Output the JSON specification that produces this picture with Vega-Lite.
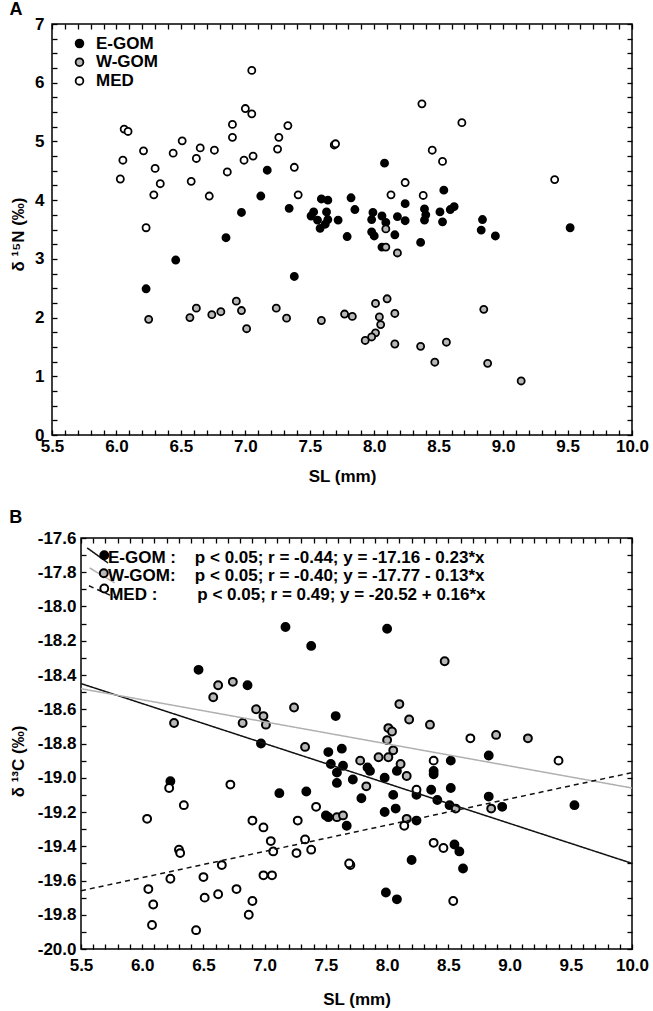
{
  "$schema": "https://vega.github.io/schema/vega-lite/v6.json",
  "padding": {"left": 8, "top": 0, "right": 5, "bottom": 0},
  "spacing": 23,
  "config": {
    "font": "Liberation Sans",
    "view": {"stroke": "black", "strokeWidth": 1.5},
    "axis": {"labelFont": "Liberation Sans", "labelFontSize": 17, "labelFontWeight": "bold", "labelColor": "black", "titleFont": "Liberation Sans", "titleFontSize": 17, "titleFontWeight": "bold", "titleColor": "black", "grid": false, "domain": false, "ticks": true, "tickColor": "#000000", "tickOpacity": 1, "tickSize": 5, "tickWidth": 1.3, "zindex": 1, "labelOverlap": false, "labelFlush": false, "labelBound": false},
    "title": {"font": "Liberation Sans", "fontSize": 18, "fontWeight": "bold", "color": "black", "anchor": "start", "frame": "bounds"}
  },
  "datasets": {
    "a": [
      {"group":"E-GOM","SL":7.17,"N":4.51},{"group":"E-GOM","SL":7.12,"N":4.07},{"group":"E-GOM","SL":6.97,"N":3.79},{"group":"E-GOM","SL":7.34,"N":3.86},{"group":"E-GOM","SL":6.85,"N":3.36},{"group":"E-GOM","SL":6.46,"N":2.98},{"group":"E-GOM","SL":6.23,"N":2.49},{"group":"E-GOM","SL":7.38,"N":2.70},{"group":"E-GOM","SL":8.08,"N":4.63},{"group":"E-GOM","SL":8.54,"N":4.17},{"group":"E-GOM","SL":8.24,"N":3.94},{"group":"E-GOM","SL":7.82,"N":4.04},{"group":"E-GOM","SL":7.85,"N":3.84},{"group":"E-GOM","SL":9.52,"N":3.53},{"group":"E-GOM","SL":8.84,"N":3.67},{"group":"E-GOM","SL":8.83,"N":3.49},{"group":"E-GOM","SL":8.94,"N":3.39},{"group":"E-GOM","SL":7.79,"N":3.38},{"group":"E-GOM","SL":8.36,"N":3.28},{"group":"E-GOM","SL":8.16,"N":3.41},{"group":"E-GOM","SL":7.59,"N":4.02},{"group":"E-GOM","SL":7.64,"N":4.00},{"group":"E-GOM","SL":7.53,"N":3.80},{"group":"E-GOM","SL":7.51,"N":3.73},{"group":"E-GOM","SL":7.63,"N":3.80},{"group":"E-GOM","SL":7.56,"N":3.66},{"group":"E-GOM","SL":7.64,"N":3.67},{"group":"E-GOM","SL":7.72,"N":3.66},{"group":"E-GOM","SL":7.58,"N":3.52},{"group":"E-GOM","SL":7.62,"N":3.59},{"group":"E-GOM","SL":7.99,"N":3.79},{"group":"E-GOM","SL":8.06,"N":3.73},{"group":"E-GOM","SL":7.98,"N":3.67},{"group":"E-GOM","SL":8.09,"N":3.62},{"group":"E-GOM","SL":7.98,"N":3.46},{"group":"E-GOM","SL":8.00,"N":3.39},{"group":"E-GOM","SL":8.06,"N":3.20},{"group":"E-GOM","SL":8.18,"N":3.72},{"group":"E-GOM","SL":8.24,"N":3.65},{"group":"E-GOM","SL":8.39,"N":3.85},{"group":"E-GOM","SL":8.39,"N":3.66},{"group":"E-GOM","SL":8.40,"N":3.75},{"group":"E-GOM","SL":8.51,"N":3.80},{"group":"E-GOM","SL":8.53,"N":3.63},{"group":"E-GOM","SL":8.59,"N":3.84},{"group":"E-GOM","SL":8.62,"N":3.89},
      {"group":"W-GOM","SL":6.25,"N":1.97},{"group":"W-GOM","SL":6.57,"N":2.00},{"group":"W-GOM","SL":6.62,"N":2.16},{"group":"W-GOM","SL":6.74,"N":2.05},{"group":"W-GOM","SL":6.81,"N":2.10},{"group":"W-GOM","SL":6.93,"N":2.28},{"group":"W-GOM","SL":6.97,"N":2.12},{"group":"W-GOM","SL":7.01,"N":1.81},{"group":"W-GOM","SL":7.24,"N":2.16},{"group":"W-GOM","SL":7.32,"N":1.99},{"group":"W-GOM","SL":7.59,"N":1.95},{"group":"W-GOM","SL":7.77,"N":2.06},{"group":"W-GOM","SL":7.83,"N":2.02},{"group":"W-GOM","SL":8.01,"N":2.24},{"group":"W-GOM","SL":8.10,"N":2.32},{"group":"W-GOM","SL":8.16,"N":2.07},{"group":"W-GOM","SL":8.04,"N":2.01},{"group":"W-GOM","SL":8.05,"N":1.88},{"group":"W-GOM","SL":8.01,"N":1.74},{"group":"W-GOM","SL":7.98,"N":1.67},{"group":"W-GOM","SL":7.93,"N":1.61},{"group":"W-GOM","SL":8.16,"N":1.55},{"group":"W-GOM","SL":8.36,"N":1.51},{"group":"W-GOM","SL":8.56,"N":1.58},{"group":"W-GOM","SL":8.47,"N":1.24},{"group":"W-GOM","SL":8.88,"N":1.22},{"group":"W-GOM","SL":8.85,"N":2.14},{"group":"W-GOM","SL":9.14,"N":0.92},{"group":"W-GOM","SL":8.09,"N":3.51},{"group":"W-GOM","SL":8.09,"N":3.20},{"group":"W-GOM","SL":8.18,"N":3.10},
      {"group":"MED","SL":6.03,"N":4.36},{"group":"MED","SL":6.05,"N":4.68},{"group":"MED","SL":6.06,"N":5.21},{"group":"MED","SL":6.09,"N":5.17},{"group":"MED","SL":6.21,"N":4.84},{"group":"MED","SL":6.23,"N":3.53},{"group":"MED","SL":6.30,"N":4.54},{"group":"MED","SL":6.29,"N":4.09},{"group":"MED","SL":6.34,"N":4.28},{"group":"MED","SL":6.44,"N":4.80},{"group":"MED","SL":6.51,"N":5.01},{"group":"MED","SL":6.58,"N":4.32},{"group":"MED","SL":6.62,"N":4.71},{"group":"MED","SL":6.65,"N":4.89},{"group":"MED","SL":6.72,"N":4.07},{"group":"MED","SL":6.76,"N":4.85},{"group":"MED","SL":6.86,"N":4.48},{"group":"MED","SL":6.90,"N":5.07},{"group":"MED","SL":6.90,"N":5.29},{"group":"MED","SL":6.99,"N":4.68},{"group":"MED","SL":7.00,"N":5.56},{"group":"MED","SL":7.05,"N":5.47},{"group":"MED","SL":7.05,"N":6.21},{"group":"MED","SL":7.06,"N":4.75},{"group":"MED","SL":7.25,"N":4.87},{"group":"MED","SL":7.26,"N":5.07},{"group":"MED","SL":7.33,"N":5.27},{"group":"MED","SL":7.38,"N":4.56},{"group":"MED","SL":7.41,"N":4.09},{"group":"MED","SL":7.69,"N":4.94},{"group":"MED","SL":7.70,"N":4.96},{"group":"MED","SL":8.37,"N":5.64},{"group":"MED","SL":8.68,"N":5.32},{"group":"MED","SL":8.45,"N":4.85},{"group":"MED","SL":8.53,"N":4.66},{"group":"MED","SL":8.24,"N":4.30},{"group":"MED","SL":8.13,"N":4.09},{"group":"MED","SL":8.38,"N":4.08},{"group":"MED","SL":9.40,"N":4.35}
    ],
    "b": [
      {"group":"E-GOM","SL":7.17,"C":-18.12},{"group":"E-GOM","SL":7.38,"C":-18.23},{"group":"E-GOM","SL":6.46,"C":-18.37},{"group":"E-GOM","SL":6.86,"C":-18.46},{"group":"E-GOM","SL":6.97,"C":-18.80},{"group":"E-GOM","SL":6.23,"C":-19.02},{"group":"E-GOM","SL":7.12,"C":-19.09},{"group":"E-GOM","SL":7.34,"C":-19.08},{"group":"E-GOM","SL":7.50,"C":-19.22},{"group":"E-GOM","SL":8.00,"C":-18.13},{"group":"E-GOM","SL":7.58,"C":-18.64},{"group":"E-GOM","SL":7.52,"C":-18.85},{"group":"E-GOM","SL":7.63,"C":-18.83},{"group":"E-GOM","SL":7.54,"C":-18.92},{"group":"E-GOM","SL":7.64,"C":-18.93},{"group":"E-GOM","SL":7.59,"C":-18.97},{"group":"E-GOM","SL":7.59,"C":-19.03},{"group":"E-GOM","SL":7.72,"C":-19.01},{"group":"E-GOM","SL":7.84,"C":-18.94},{"group":"E-GOM","SL":7.86,"C":-18.96},{"group":"E-GOM","SL":7.98,"C":-19.00},{"group":"E-GOM","SL":8.08,"C":-18.96},{"group":"E-GOM","SL":8.38,"C":-18.96},{"group":"E-GOM","SL":8.38,"C":-18.98},{"group":"E-GOM","SL":8.52,"C":-18.90},{"group":"E-GOM","SL":7.79,"C":-19.12},{"group":"E-GOM","SL":8.05,"C":-19.10},{"group":"E-GOM","SL":8.36,"C":-19.07},{"group":"E-GOM","SL":8.52,"C":-19.06},{"group":"E-GOM","SL":8.24,"C":-19.10},{"group":"E-GOM","SL":8.83,"C":-18.87},{"group":"E-GOM","SL":8.83,"C":-19.11},{"group":"E-GOM","SL":8.41,"C":-19.13},{"group":"E-GOM","SL":8.51,"C":-19.16},{"group":"E-GOM","SL":8.07,"C":-19.18},{"group":"E-GOM","SL":7.98,"C":-19.20},{"group":"E-GOM","SL":7.52,"C":-19.23},{"group":"E-GOM","SL":7.67,"C":-19.28},{"group":"E-GOM","SL":8.24,"C":-19.25},{"group":"E-GOM","SL":8.55,"C":-19.39},{"group":"E-GOM","SL":8.59,"C":-19.43},{"group":"E-GOM","SL":8.62,"C":-19.53},{"group":"E-GOM","SL":8.20,"C":-19.48},{"group":"E-GOM","SL":7.99,"C":-19.67},{"group":"E-GOM","SL":8.08,"C":-19.71},{"group":"E-GOM","SL":8.94,"C":-19.17},{"group":"E-GOM","SL":9.53,"C":-19.16},
      {"group":"W-GOM","SL":6.26,"C":-18.68},{"group":"W-GOM","SL":6.58,"C":-18.53},{"group":"W-GOM","SL":6.62,"C":-18.46},{"group":"W-GOM","SL":6.74,"C":-18.44},{"group":"W-GOM","SL":6.82,"C":-18.68},{"group":"W-GOM","SL":6.93,"C":-18.60},{"group":"W-GOM","SL":6.99,"C":-18.64},{"group":"W-GOM","SL":7.01,"C":-18.69},{"group":"W-GOM","SL":7.24,"C":-18.59},{"group":"W-GOM","SL":7.33,"C":-18.82},{"group":"W-GOM","SL":8.47,"C":-18.32},{"group":"W-GOM","SL":8.10,"C":-18.57},{"group":"W-GOM","SL":8.18,"C":-18.66},{"group":"W-GOM","SL":8.35,"C":-18.69},{"group":"W-GOM","SL":8.01,"C":-18.71},{"group":"W-GOM","SL":8.04,"C":-18.73},{"group":"W-GOM","SL":8.00,"C":-18.78},{"group":"W-GOM","SL":8.05,"C":-18.84},{"group":"W-GOM","SL":8.89,"C":-18.75},{"group":"W-GOM","SL":9.15,"C":-18.77},{"group":"W-GOM","SL":7.93,"C":-18.88},{"group":"W-GOM","SL":8.01,"C":-18.88},{"group":"W-GOM","SL":7.78,"C":-18.90},{"group":"W-GOM","SL":8.11,"C":-18.92},{"group":"W-GOM","SL":8.16,"C":-18.99},{"group":"W-GOM","SL":7.83,"C":-19.05},{"group":"W-GOM","SL":7.59,"C":-19.23},{"group":"W-GOM","SL":7.64,"C":-19.22},{"group":"W-GOM","SL":8.16,"C":-19.24},{"group":"W-GOM","SL":8.56,"C":-19.18},{"group":"W-GOM","SL":8.85,"C":-19.18},
      {"group":"MED","SL":6.22,"C":-19.06},{"group":"MED","SL":6.72,"C":-19.04},{"group":"MED","SL":6.34,"C":-19.16},{"group":"MED","SL":6.04,"C":-19.24},{"group":"MED","SL":6.90,"C":-19.25},{"group":"MED","SL":6.99,"C":-19.29},{"group":"MED","SL":7.27,"C":-19.25},{"group":"MED","SL":7.42,"C":-19.17},{"group":"MED","SL":7.05,"C":-19.37},{"group":"MED","SL":7.33,"C":-19.36},{"group":"MED","SL":7.38,"C":-19.42},{"group":"MED","SL":7.26,"C":-19.44},{"group":"MED","SL":7.07,"C":-19.43},{"group":"MED","SL":6.30,"C":-19.42},{"group":"MED","SL":6.31,"C":-19.44},{"group":"MED","SL":6.65,"C":-19.51},{"group":"MED","SL":6.23,"C":-19.59},{"group":"MED","SL":6.50,"C":-19.58},{"group":"MED","SL":6.99,"C":-19.57},{"group":"MED","SL":7.06,"C":-19.57},{"group":"MED","SL":6.05,"C":-19.65},{"group":"MED","SL":6.77,"C":-19.65},{"group":"MED","SL":6.62,"C":-19.68},{"group":"MED","SL":6.51,"C":-19.70},{"group":"MED","SL":6.09,"C":-19.74},{"group":"MED","SL":6.90,"C":-19.72},{"group":"MED","SL":6.87,"C":-19.80},{"group":"MED","SL":6.08,"C":-19.86},{"group":"MED","SL":6.44,"C":-19.89},{"group":"MED","SL":8.68,"C":-18.77},{"group":"MED","SL":9.40,"C":-18.90},{"group":"MED","SL":8.38,"C":-18.90},{"group":"MED","SL":8.24,"C":-19.07},{"group":"MED","SL":8.14,"C":-19.28},{"group":"MED","SL":8.38,"C":-19.38},{"group":"MED","SL":8.46,"C":-19.41},{"group":"MED","SL":7.70,"C":-19.51},{"group":"MED","SL":7.69,"C":-19.50},{"group":"MED","SL":8.54,"C":-19.72}
    ],
    "fit": [
      {"group":"E-GOM","SL":5.5,"C":-18.45},{"group":"E-GOM","SL":10,"C":-19.50},
      {"group":"W-GOM","SL":5.5,"C":-18.48},{"group":"W-GOM","SL":10,"C":-19.06},
      {"group":"MED","SL":5.5,"C":-19.66},{"group":"MED","SL":10,"C":-18.97}
    ],
    "keyline": [
      {"group":"E-GOM","SL":5.551,"C":-17.658},{"group":"E-GOM","SL":5.721,"C":-17.746},
      {"group":"W-GOM","SL":5.571,"C":-17.775},{"group":"W-GOM","SL":5.775,"C":-17.862},
      {"group":"MED","SL":5.565,"C":-17.879},{"group":"MED","SL":5.794,"C":-17.952}
    ],
    "keypt": [
      {"group":"E-GOM","SL":5.69,"C":-17.701},
      {"group":"W-GOM","SL":5.686,"C":-17.806},
      {"group":"MED","SL":5.69,"C":-17.895}
    ],
    "keytxt": [
      {"text":"E-GOM :","SL":5.72,"C":-17.714},
      {"text":"W-GOM:","SL":5.72,"C":-17.823},
      {"text":"MED :","SL":5.73,"C":-17.930},
      {"text":"p < 0.05; r = -0.44; y = -17.16 - 0.23*x","SL":6.43,"C":-17.714},
      {"text":"p < 0.05; r = -0.40; y = -17.77 - 0.13*x","SL":6.43,"C":-17.823},
      {"text":"p < 0.05; r = 0.49;  y = -20.52 + 0.16*x","SL":6.45,"C":-17.930}
    ]
  },
  "vconcat": [
    {
      "width": 580,
      "height": 411,
      "title": {"text": "A", "offset": -6, "dy": -2},
      "layer": [
        {
          "data": {"name": "a"},
          "mark": {"type": "point", "filled": true, "shape": "circle", "size": 50, "stroke": "black", "strokeWidth": 1.8, "opacity": 1},
          "encoding": {
            "x": {"field": "SL", "type": "quantitative", "scale": {"domain": [5.5, 10], "nice": false, "zero": false},
              "axis": {"orient": "bottom", "offset": -5, "values": [5.5,5.6,5.7,5.8,5.9,6,6.1,6.2,6.3,6.4,6.5,6.6,6.7,6.8,6.9,7,7.1,7.2,7.3,7.4,7.5,7.6,7.7,7.8,7.9,8,8.1,8.2,8.3,8.4,8.5,8.6,8.7,8.8,8.9,9,9.1,9.2,9.3,9.4,9.5,9.6,9.7,9.8,9.9,10], "labelExpr": "abs(datum.value * 2 - round(datum.value * 2)) < 0.001 ? format(datum.value, '.1f') : ''", "title": "SL (mm)", "labelPadding": 3, "titlePadding": 14}},
            "y": {"field": "N", "type": "quantitative", "scale": {"domain": [0, 7], "nice": false, "zero": false},
              "axis": {"orient": "left", "offset": -5, "values": [0,0.25,0.5,0.75,1,1.25,1.5,1.75,2,2.25,2.5,2.75,3,3.25,3.5,3.75,4,4.25,4.5,4.75,5,5.25,5.5,5.75,6,6.25,6.5,6.75,7], "labelExpr": "abs(datum.value - round(datum.value)) < 0.001 ? format(datum.value, 'd') : ''", "title": "δ ¹⁵N (‰)", "labelPadding": 8, "titlePadding": 7, "titleY": 210}},
            "fill": {"field": "group", "type": "nominal", "scale": {"domain": ["E-GOM", "W-GOM", "MED"], "range": ["#000000", "#b8b8b8", "#ffffff"]},
              "legend": {"orient": "none", "legendX": 19, "legendY": 11, "title": null, "padding": 0, "labelFont": "Liberation Sans", "labelFontSize": 17, "labelFontWeight": "bold", "labelColor": "black", "symbolType": "circle", "symbolSize": 60, "symbolStrokeColor": "black", "symbolStrokeWidth": 1.8, "symbolOpacity": 1, "rowPadding": 0.7, "labelOffset": 8}}
          }
        },
        {
          "data": {"values": []},
          "mark": {"type": "point"},
          "encoding": {
            "x": {"field": "SL", "type": "quantitative", "scale": {"domain": [5.5, 10], "nice": false, "zero": false}, "axis": {"orient": "top", "offset": -5, "values": [5.5,5.6,5.7,5.8,5.9,6,6.1,6.2,6.3,6.4,6.5,6.6,6.7,6.8,6.9,7,7.1,7.2,7.3,7.4,7.5,7.6,7.7,7.8,7.9,8,8.1,8.2,8.3,8.4,8.5,8.6,8.7,8.8,8.9,9,9.1,9.2,9.3,9.4,9.5,9.6,9.7,9.8,9.9,10], "labels": false, "title": null}},
            "y": {"field": "N", "type": "quantitative", "scale": {"domain": [0, 7], "nice": false, "zero": false}, "axis": {"orient": "right", "offset": -5, "values": [0,0.25,0.5,0.75,1,1.25,1.5,1.75,2,2.25,2.5,2.75,3,3.25,3.5,3.75,4,4.25,4.5,4.75,5,5.25,5.5,5.75,6,6.25,6.5,6.75,7], "labels": false, "title": null}}
          }
        }
      ],
      "resolve": {"scale": {"x": "independent", "y": "independent"}, "axis": {"x": "independent", "y": "independent"}}
    },
    {
      "bounds": "flush",
      "spacing": 20,
      "hconcat": [
        {
          "width": 9,
          "height": 411,
          "view": {"stroke": null},
          "data": {"values": []},
          "mark": {"type": "point"}
        },
        {
          "width": 551,
          "height": 411,
          "title": {"text": "B", "offset": 2},
          "layer": [
            {
              "data": {"name": "b"},
              "mark": {"type": "point", "filled": true, "shape": "circle", "size": 62, "stroke": "black", "strokeWidth": 2, "opacity": 1},
              "encoding": {
                "x": {"field": "SL", "type": "quantitative", "scale": {"domain": [5.5, 10], "nice": false, "zero": false},
                  "axis": {"orient": "bottom", "offset": -5, "values": [5.5,5.6,5.7,5.8,5.9,6,6.1,6.2,6.3,6.4,6.5,6.6,6.7,6.8,6.9,7,7.1,7.2,7.3,7.4,7.5,7.6,7.7,7.8,7.9,8,8.1,8.2,8.3,8.4,8.5,8.6,8.7,8.8,8.9,9,9.1,9.2,9.3,9.4,9.5,9.6,9.7,9.8,9.9,10], "labelExpr": "abs(datum.value * 2 - round(datum.value * 2)) < 0.001 ? format(datum.value, '.1f') : ''", "title": "SL (mm)", "labelPadding": 8, "titlePadding": 18}},
                "y": {"field": "C", "type": "quantitative", "scale": {"domain": [-20, -17.6], "nice": false, "zero": false},
                  "axis": {"orient": "left", "offset": -5, "values": [-20,-19.9,-19.8,-19.7,-19.6,-19.5,-19.4,-19.3,-19.2,-19.1,-19,-18.9,-18.8,-18.7,-18.6,-18.5,-18.4,-18.3,-18.2,-18.1,-18,-17.9,-17.8,-17.7,-17.6], "labelExpr": "abs(datum.value * 5 - round(datum.value * 5)) < 0.001 ? ((datum.value < 0 ? '-' : '') + format(abs(datum.value), '.1f')) : ''", "title": "δ ¹³C (‰)", "labelPadding": 5, "titlePadding": 10, "titleY": 223}},
                "fill": {"field": "group", "type": "nominal", "scale": {"domain": ["E-GOM", "W-GOM", "MED"], "range": ["#000000", "#b8b8b8", "#ffffff"]}, "legend": null}
              }
            },
            {
              "data": {"name": "fit"},
              "mark": {"type": "line", "strokeWidth": 1.5},
              "encoding": {
                "x": {"field": "SL", "type": "quantitative", "scale": {"domain": [5.5, 10], "nice": false, "zero": false}, "axis": {"orient": "top", "offset": -5, "values": [5.5,5.6,5.7,5.8,5.9,6,6.1,6.2,6.3,6.4,6.5,6.6,6.7,6.8,6.9,7,7.1,7.2,7.3,7.4,7.5,7.6,7.7,7.8,7.9,8,8.1,8.2,8.3,8.4,8.5,8.6,8.7,8.8,8.9,9,9.1,9.2,9.3,9.4,9.5,9.6,9.7,9.8,9.9,10], "labels": false, "title": null}},
                "y": {"field": "C", "type": "quantitative", "scale": {"domain": [-20, -17.6], "nice": false, "zero": false}, "axis": {"orient": "right", "offset": -5, "values": [-20,-19.9,-19.8,-19.7,-19.6,-19.5,-19.4,-19.3,-19.2,-19.1,-19,-18.9,-18.8,-18.7,-18.6,-18.5,-18.4,-18.3,-18.2,-18.1,-18,-17.9,-17.8,-17.7,-17.6], "labels": false, "title": null}},
                "stroke": {"field": "group", "type": "nominal", "scale": {"domain": ["E-GOM", "W-GOM", "MED"], "range": ["#111111", "#b0b0b0", "#111111"]}, "legend": null},
                "strokeDash": {"field": "group", "type": "nominal", "scale": {"domain": ["E-GOM", "W-GOM", "MED"], "range": [[1, 0], [1, 0], [5, 4]]}, "legend": null}
              }
            },
            {
              "data": {"name": "keyline"},
              "mark": {"type": "line", "strokeWidth": 1.5},
              "encoding": {
                "x": {"field": "SL", "type": "quantitative", "scale": {"domain": [5.5, 10], "nice": false, "zero": false}, "axis": null},
                "y": {"field": "C", "type": "quantitative", "scale": {"domain": [-20, -17.6], "nice": false, "zero": false}, "axis": null},
                "stroke": {"field": "group", "type": "nominal", "legend": null},
                "strokeDash": {"field": "group", "type": "nominal", "legend": null}
              }
            },
            {
              "data": {"name": "keypt"},
              "mark": {"type": "point", "filled": true, "shape": "circle", "size": 62, "stroke": "black", "strokeWidth": 2, "opacity": 1},
              "encoding": {
                "x": {"field": "SL", "type": "quantitative", "scale": {"domain": [5.5, 10], "nice": false, "zero": false}, "axis": null},
                "y": {"field": "C", "type": "quantitative", "scale": {"domain": [-20, -17.6], "nice": false, "zero": false}, "axis": null},
                "fill": {"field": "group", "type": "nominal", "legend": null}
              }
            },
            {
              "data": {"name": "keytxt"},
              "mark": {"type": "text", "align": "left", "baseline": "middle", "font": "Liberation Sans", "fontSize": 17, "fontWeight": "bold", "color": "black"},
              "encoding": {
                "x": {"field": "SL", "type": "quantitative", "scale": {"domain": [5.5, 10], "nice": false, "zero": false}, "axis": null},
                "y": {"field": "C", "type": "quantitative", "scale": {"domain": [-20, -17.6], "nice": false, "zero": false}, "axis": null},
                "text": {"field": "text", "type": "nominal"}
              }
            }
          ],
          "resolve": {"scale": {"x": "independent", "y": "independent"}, "axis": {"x": "independent", "y": "independent"}}
        }
      ]
    }
  ],
  "resolve": {"scale": {"fill": "independent"}, "legend": {"fill": "independent"}}
}
